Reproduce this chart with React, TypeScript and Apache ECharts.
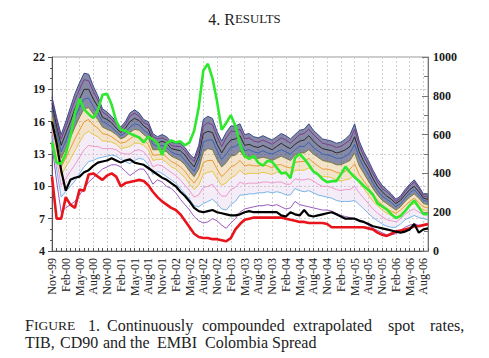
import React, { useEffect, useRef } from "react";
import * as echarts from "echarts";

const MONTHS = [
  "Nov-99","Dec-99",
  "Jan-00","Feb-00","Mar-00","Apr-00","May-00","Jun-00","Jul-00","Aug-00","Sep-00","Oct-00","Nov-00","Dec-00",
  "Jan-01","Feb-01","Mar-01","Apr-01","May-01","Jun-01","Jul-01","Aug-01","Sep-01","Oct-01","Nov-01","Dec-01",
  "Jan-02","Feb-02","Mar-02","Apr-02","May-02","Jun-02","Jul-02","Aug-02","Sep-02","Oct-02","Nov-02","Dec-02",
  "Jan-03","Feb-03","Mar-03","Apr-03","May-03","Jun-03","Jul-03","Aug-03","Sep-03","Oct-03","Nov-03","Dec-03",
  "Jan-04","Feb-04","Mar-04","Apr-04","May-04","Jun-04","Jul-04","Aug-04","Sep-04","Oct-04","Nov-04","Dec-04",
  "Jan-05","Feb-05","Mar-05","Apr-05","May-05","Jun-05","Jul-05","Aug-05","Sep-05","Oct-05","Nov-05","Dec-05",
  "Jan-06","Feb-06","Mar-06","Apr-06","May-06","Jun-06","Jul-06","Aug-06","Sep-06"
];

// Spot-rate curves (left axis, %), longest maturity on top
const SPOT_TOP = [18.3,16.4,14.8,16.0,17.3,18.6,19.6,20.5,20.4,19.3,18.4,17.2,16.9,16.5,16.0,15.5,16.0,16.8,17.1,16.8,16.2,16.0,14.9,14.6,14.8,14.6,14.1,14.0,14.0,13.6,13.0,12.6,13.8,16.2,16.5,16.3,15.1,14.2,15.0,15.6,15.6,15.8,14.8,14.9,14.6,14.5,14.7,14.5,14.3,14.6,14.9,14.7,14.4,14.8,15.2,15.3,15.8,15.2,14.8,14.4,14.3,14.2,14.0,14.1,14.4,14.8,15.8,14.2,13.2,12.4,11.5,10.7,10.1,9.7,9.3,8.8,9.1,9.7,10.2,10.6,10.0,9.3,9.2];
const SPOT_1 = [18.0,16.1,14.4,15.5,16.8,18.0,19.0,19.9,19.8,18.8,18.0,16.9,16.6,16.2,15.8,15.3,15.7,16.5,16.8,16.5,15.9,15.7,14.6,14.4,14.5,14.3,13.8,13.7,13.7,13.3,12.7,12.3,13.4,15.6,15.9,15.7,14.6,13.7,14.5,15.1,15.1,15.3,14.4,14.5,14.2,14.1,14.3,14.1,13.9,14.2,14.5,14.3,14.0,14.4,14.8,14.9,15.3,14.8,14.4,14.0,13.9,13.8,13.6,13.7,14.0,14.3,15.3,13.8,12.8,12.0,11.2,10.4,9.8,9.5,9.1,8.6,8.9,9.5,10.0,10.4,9.8,9.1,9.0];
const SPOT_2 = [17.7,15.6,13.8,14.9,16.0,17.2,18.1,19.0,19.0,18.1,17.4,16.4,16.2,15.9,15.4,15.0,15.4,16.0,16.3,16.1,15.6,15.3,14.2,14.0,14.2,14.0,13.5,13.4,13.3,12.9,12.3,11.8,12.8,14.9,15.1,15.0,13.9,13.1,13.8,14.3,14.4,14.7,13.8,13.9,13.7,13.6,13.8,13.6,13.4,13.7,14.0,13.7,13.5,13.9,14.2,14.3,14.7,14.2,13.8,13.5,13.4,13.3,13.1,13.2,13.4,13.7,14.6,13.2,12.3,11.6,10.7,10.0,9.5,9.1,8.8,8.4,8.7,9.2,9.7,10.0,9.5,8.9,8.8];
const SPOT_3 = [17.3,15.1,13.2,14.2,15.3,16.4,17.3,18.1,18.2,17.4,16.8,16.0,15.8,15.5,15.1,14.7,15.0,15.5,15.8,15.7,15.2,14.9,13.9,13.7,13.8,13.6,13.2,13.0,12.9,12.4,11.9,11.4,12.3,14.1,14.3,14.3,13.3,12.5,13.0,13.6,13.7,14.0,13.3,13.4,13.2,13.1,13.3,13.1,13.0,13.2,13.4,13.2,13.0,13.4,13.7,13.7,14.1,13.6,13.3,13.0,12.9,12.8,12.6,12.6,12.8,13.1,13.9,12.6,11.8,11.1,10.3,9.6,9.1,8.8,8.5,8.1,8.4,8.9,9.4,9.7,9.2,8.7,8.6];
const SPOT_4 = [16.9,14.6,12.6,13.5,14.5,15.5,16.4,17.2,17.3,16.7,16.2,15.5,15.3,15.1,14.8,14.4,14.6,15.0,15.3,15.2,14.8,14.5,13.4,13.4,13.4,13.2,12.8,12.6,12.4,12.0,11.4,10.9,11.6,13.2,13.5,13.4,12.5,11.8,12.2,12.8,12.9,13.3,12.7,12.8,12.6,12.6,12.7,12.6,12.4,12.6,12.8,12.6,12.4,12.9,13.1,13.1,13.4,13.0,12.7,12.4,12.3,12.2,12.0,12.0,12.2,12.4,13.1,11.9,11.2,10.5,9.8,9.2,8.7,8.4,8.1,7.8,8.1,8.6,9.0,9.3,8.9,8.4,8.3];
const SPOT_5 = [16.4,13.9,11.8,12.6,13.5,14.4,15.2,16.0,16.2,15.7,15.4,14.9,14.8,14.6,14.3,14.0,14.1,14.4,14.7,14.6,14.3,13.9,12.9,12.9,13.0,12.7,12.3,12.1,11.8,11.4,10.8,10.3,10.9,12.2,12.4,12.4,11.6,10.9,11.3,11.8,12.0,12.4,11.9,12.0,11.9,11.9,12.0,11.9,11.7,12.0,12.0,11.8,11.7,12.2,12.3,12.3,12.6,12.2,11.9,11.6,11.6,11.5,11.3,11.2,11.4,11.6,12.1,11.1,10.5,9.9,9.2,8.7,8.3,7.9,7.7,7.5,7.8,8.2,8.6,8.9,8.5,8.1,8.0];
const SPOT_6 = [15.9,13.3,11.0,11.8,12.5,13.3,14.1,14.8,15.1,14.8,14.6,14.2,14.2,14.1,13.9,13.5,13.6,13.7,14.0,14.0,13.8,13.4,12.4,12.5,12.5,12.2,11.8,11.6,11.2,10.8,10.2,9.7,10.1,11.1,11.3,11.4,10.7,10.1,10.3,10.8,11.0,11.5,11.1,11.2,11.2,11.2,11.3,11.2,11.1,11.3,11.3,11.1,11.0,11.5,11.5,11.5,11.7,11.4,11.1,10.9,10.9,10.8,10.6,10.5,10.6,10.7,11.1,10.3,9.8,9.2,8.6,8.2,7.8,7.5,7.3,7.1,7.4,7.8,8.2,8.4,8.1,7.8,7.7];
const SPOT_7 = [15.3,12.5,10.1,10.7,11.4,12.0,12.7,13.4,13.8,13.7,13.7,13.5,13.5,13.5,13.4,13.1,13.0,13.0,13.3,13.4,13.2,12.7,11.8,12.0,11.9,11.6,11.3,11.0,10.6,10.1,9.6,9.0,9.2,9.9,10.0,10.2,9.6,9.1,9.1,9.7,9.9,10.4,10.2,10.3,10.3,10.3,10.4,10.4,10.3,10.4,10.4,10.2,10.2,10.7,10.6,10.6,10.7,10.5,10.2,10.0,10.0,9.9,9.7,9.6,9.7,9.7,10.0,9.4,8.9,8.4,7.9,7.5,7.2,6.9,6.8,6.7,7.0,7.4,7.7,7.9,7.6,7.4,7.4];
const SPOT_8 = [14.7,11.6,9.0,9.5,10.0,10.5,11.2,11.8,12.3,12.4,12.6,12.7,12.8,12.9,12.8,12.5,12.3,12.1,12.4,12.6,12.5,12.0,11.1,11.4,11.2,10.9,10.6,10.3,9.8,9.3,8.8,8.2,8.1,8.4,8.6,8.8,8.4,7.9,7.8,8.3,8.6,9.2,9.2,9.3,9.3,9.4,9.4,9.5,9.4,9.5,9.4,9.2,9.2,9.8,9.6,9.5,9.6,9.4,9.2,9.1,9.0,8.9,8.7,8.6,8.6,8.6,8.7,8.3,7.9,7.5,7.1,6.8,6.5,6.3,6.2,6.2,6.5,6.9,7.1,7.3,7.1,7.0,6.9];
const SPOT_BOTTOM = [13.8,10.5,7.6,8.0,8.3,8.6,9.2,9.8,10.4,10.8,11.2,11.6,11.8,12.0,12.0,11.8,11.4,11.0,11.3,11.6,11.6,11.0,10.2,10.6,10.4,10.0,9.8,9.4,8.8,8.3,7.8,7.2,6.8,6.6,6.7,7.0,6.8,6.4,6.1,6.6,7.0,7.6,7.9,8.0,8.1,8.2,8.2,8.3,8.2,8.3,8.1,7.9,8.0,8.6,8.3,8.2,8.1,8.0,7.9,7.8,7.8,7.7,7.5,7.3,7.2,7.1,7.0,6.9,6.7,6.4,6.1,5.9,5.7,5.5,5.5,5.6,5.9,6.2,6.4,6.5,6.4,6.4,6.4];

// TIB and CD90 (left axis, %)
const TIB = [16.0,14.0,11.5,9.6,10.6,10.8,10.9,11.3,11.5,11.9,12.2,12.3,12.4,12.6,12.4,12.2,12.4,12.5,12.2,12.1,12.0,11.7,11.4,11.1,10.8,10.6,10.3,10.0,9.5,9.1,8.6,8.0,7.7,7.6,7.7,7.8,7.6,7.5,7.4,7.3,7.3,7.4,7.6,7.7,7.6,7.6,7.6,7.6,7.6,7.6,7.3,7.2,7.6,7.4,7.3,7.8,7.3,7.2,7.3,7.4,7.5,7.6,7.4,7.2,7.0,7.0,7.0,6.8,6.7,6.5,6.3,6.2,6.1,6.0,5.9,5.8,5.7,5.8,6.0,6.5,5.7,6.0,6.1];
const CD90 = [10.9,7.0,7.0,9.0,8.3,8.0,9.7,9.6,11.1,11.2,10.9,10.6,11.0,11.2,10.9,10.0,10.3,10.4,10.5,10.6,10.5,10.1,9.5,9.0,8.6,8.3,8.0,7.8,7.4,6.8,6.2,5.6,5.3,5.2,5.2,5.1,5.1,5.0,4.9,5.2,6.0,6.5,6.9,7.0,7.1,7.1,7.1,7.1,7.1,7.1,7.1,7.0,6.9,6.8,6.7,6.7,6.6,6.6,6.6,6.6,6.5,6.2,6.2,6.2,6.2,6.2,6.2,6.2,6.2,6.1,6.0,5.7,5.5,5.4,5.6,5.8,5.9,6.0,6.1,6.3,6.3,6.4,6.5];
// EMBI Colombia spread (right axis, bp)
const EMBI = [560,455,450,500,590,710,785,730,705,685,725,805,810,755,670,625,620,605,595,585,560,590,575,555,495,555,570,560,565,545,560,620,740,930,965,890,770,625,660,700,645,550,490,475,490,455,440,465,460,430,400,405,375,480,500,475,445,410,395,370,355,360,360,395,435,405,380,360,335,315,290,245,230,215,190,170,180,205,235,260,225,190,190];

const LEFT_TICKS_MIN = 4;
const LEFT_TICKS_MAX = 22;
const LEFT_TICK_STEP = 3;
const RIGHT_TICKS_MAX = 1000;
const RIGHT_TICK_STEP = 200;

const CAPTION_LINE1 = ["1.", "Continuously", "compounded", "extrapolated", "spot", "rates,"];
const CAPTION_LINE2 = ["TIB,", "CD90", "and", "the", "EMBI", "Colombia", "Spread"];

const SERIF = "'Liberation Serif', 'DejaVu Serif', serif";

export default function App() {
  const ref = useRef<HTMLDivElement>(null);
  useEffect(() => {
    const chart = echarts.init(ref.current!, null, { renderer: "svg" });
    const sh = (a: number[]) => a.map((v) => +(v - LEFT_TICKS_MIN).toFixed(3));
    const diff = (a: number[], b: number[]) => a.map((v, i) => +(v - b[i]).toFixed(3));

    const fan: [string, number[], string][] = [
      ["spot 10", SPOT_BOTTOM, "#9a58c0"],
      ["spot 9", SPOT_8, "#78b4e6"],
      ["spot 8", SPOT_7, "#ee98c8"],
      ["spot 7", SPOT_6, "#e6c84a"],
      ["spot 6", SPOT_5, "#ec9a38"],
      ["spot 5", SPOT_4, "#7a7a3c"],
      ["spot 4", SPOT_3, "#3a64b0"],
      ["spot 3", SPOT_2, "#2a2a2a"],
      ["spot 2", SPOT_1, "#7e3a8c"],
      ["spot 1", SPOT_TOP, "#3a4a8a"],
    ];

    const lineBase = {
      type: "line" as const,
      symbol: "none",
      silent: true,
      yAxisIndex: 0,
    };
    const hidden = { width: 0, opacity: 0 };

    const series: any[] = [
      { ...lineBase, name: "lightBase", stack: "light", data: sh(SPOT_8), lineStyle: hidden },
      { ...lineBase, name: "lightBand", stack: "light", data: diff(SPOT_6, SPOT_8), lineStyle: hidden, areaStyle: { color: "rgba(205,175,225,0.22)", opacity: 1 } },
      { ...lineBase, name: "midBase", stack: "mid", data: sh(SPOT_6), lineStyle: hidden },
      { ...lineBase, name: "midBand", stack: "mid", data: diff(SPOT_4, SPOT_6), lineStyle: hidden, areaStyle: { color: "rgba(215,170,90,0.33)", opacity: 1 } },
      { ...lineBase, name: "darkBase", stack: "dark", data: sh(SPOT_4), lineStyle: hidden },
      { ...lineBase, name: "darkBand", stack: "dark", data: diff(SPOT_TOP, SPOT_4), lineStyle: hidden, areaStyle: { color: "rgba(62,66,112,0.62)", opacity: 1 } },
      ...fan.map(([name, arr, color]) => ({
        ...lineBase,
        name,
        data: sh(arr),
        lineStyle: { width: 1, color },
      })),
      { ...lineBase, name: "CD90", data: sh(CD90), lineStyle: { width: 2.6, color: "#e8141c" } },
      { ...lineBase, name: "TIB", data: sh(TIB), lineStyle: { width: 2.2, color: "#000000" } },
      { ...lineBase, name: "EMBI", yAxisIndex: 1, data: EMBI, lineStyle: { width: 2.6, color: "#2ee82e" } },
    ];

    const line1X = [88, 107, 202, 293, 388, 430];
    const line2X = [25, 60, 103, 130, 157, 205, 272];
    const capFont = `16px ${SERIF}`;
    const captionTexts: any[] = [
      {
        type: "text", x: 25, y: 317,
        style: { text: "{a|F}{b|IGURE}", rich: { a: { fontFamily: SERIF, fontSize: 16, fill: "#222" }, b: { fontFamily: SERIF, fontSize: 13.5, fill: "#222" } } },
      },
      ...CAPTION_LINE1.map((w, i) => ({ type: "text", x: line1X[i], y: 317, style: { text: w, font: capFont, fill: "#222" } })),
      ...CAPTION_LINE2.map((w, i) => ({ type: "text", x: line2X[i], y: 334, style: { text: w, font: capFont, fill: "#222" } })),
    ];

    const option: any = {
      animation: false,
      backgroundColor: "#ffffff",
      grid: { left: 52, right: 61, top: 57, bottom: 107, show: true, borderColor: "#9a9a9a", borderWidth: 1 },
      xAxis: {
        type: "category",
        data: MONTHS,
        boundaryGap: false,
        axisLine: { lineStyle: { color: "#555", width: 1 } },
        axisTick: { show: true, interval: 0, inside: true, length: 3, lineStyle: { color: "#555" } },
        axisLabel: { interval: 2, rotate: 90, fontFamily: SERIF, fontSize: 12, color: "#1a1a1a", margin: 7 },
        splitLine: { show: true, interval: 2, lineStyle: { color: "#cfcfcf", type: [2, 2], width: 1 } },
      },
      yAxis: [
        {
          type: "value",
          min: 0,
          max: LEFT_TICKS_MAX - LEFT_TICKS_MIN,
          interval: LEFT_TICK_STEP,
          axisLine: { show: true, lineStyle: { color: "#555" } },
          axisTick: { show: true, length: 4, lineStyle: { color: "#555" } },
          minorTick: { show: true, splitNumber: 3, length: 2, lineStyle: { color: "#555" } },
          axisLabel: { formatter: (v: number) => String(v + LEFT_TICKS_MIN), fontFamily: SERIF, fontWeight: "bold", fontSize: 12, color: "#1a1a1a", margin: 7 },
          splitLine: { show: true, lineStyle: { color: "#cfcfcf", type: [2, 2], width: 1 } },
        },
        {
          type: "value",
          min: 0,
          max: RIGHT_TICKS_MAX,
          interval: RIGHT_TICK_STEP,
          position: "right",
          axisLine: { show: true, lineStyle: { color: "#777" } },
          axisTick: { show: true, inside: true, length: 6, lineStyle: { color: "#777" } },
          minorTick: { show: true, splitNumber: 2, length: 4, lineStyle: { color: "#777" } },
          axisLabel: { formatter: (v: number) => String(v), fontFamily: SERIF, fontWeight: "bold", fontSize: 12, color: "#1a1a1a", margin: 5 },
          splitLine: { show: false },
        },
      ],
      graphic: [
        {
          type: "text",
          left: "center",
          top: 11,
          style: {
            text: "{a|4. R}{b|ESULTS}",
            rich: {
              a: { fontFamily: SERIF, fontSize: 16, fill: "#222" },
              b: { fontFamily: SERIF, fontSize: 12.8, fill: "#222" },
            },
          },
        },
        ...captionTexts,
      ],
      series,
    };
    chart.setOption(option);
    return () => chart.dispose();
  }, []);
  return <div ref={ref} style={{ position: "absolute", left: 0, top: 0, width: 489, height: 358 }} />;
}
